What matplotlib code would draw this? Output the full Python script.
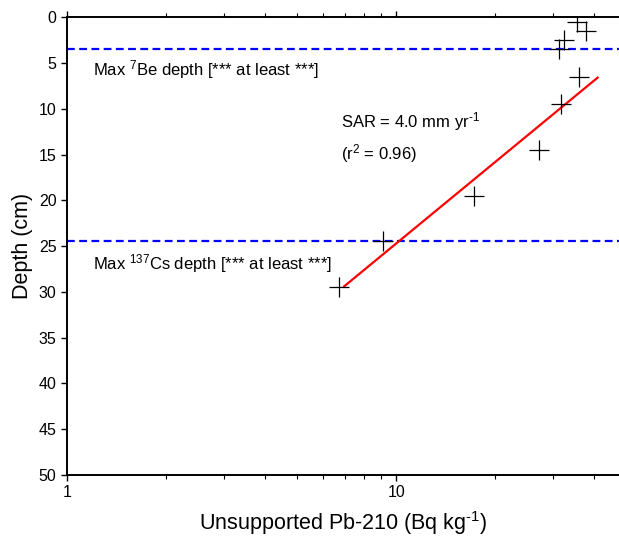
import numpy as np
import matplotlib
matplotlib.use("Agg")
import matplotlib.pyplot as plt
from matplotlib.ticker import LogLocator, FixedLocator, NullFormatter

plt.rcParams['font.family'] = ['Liberation Sans', 'DejaVu Sans']
plt.rcParams['mathtext.fontset'] = 'custom'
plt.rcParams['mathtext.rm'] = 'Liberation Sans'
plt.rcParams['mathtext.it'] = 'Liberation Sans:italic'

# unsupported Pb-210 activity per core slice
pb210 = [35.4, 37.6, 32.4, 31.3, 36.0, 31.7, 27.1, 17.2, 9.1, 6.7]
depth = [0.5, 1.5, 2.5, 3.5, 6.5, 9.5, 14.5, 19.5, 24.5, 29.5]

# log-linear regression line end points
fit_x = [6.95, 40.9]
fit_depth = [29.4, 6.6]

be7_depth = 3.5
cs137_depth = 24.5

fig = plt.figure(figsize=(6.19, 5.39), dpi=100)
ax = fig.add_axes([0.1082, 0.119, 0.8918, 0.849])

ax.axhline(be7_depth, color='#0000ff', lw=1.6, dashes=(3.5, 2), zorder=1)
ax.axhline(cs137_depth, color='#0000ff', lw=1.6, dashes=(3.5, 2), zorder=1)

ax.plot(fit_x, fit_depth, color='#ff0000', lw=1.6, zorder=2)
ax.plot(pb210, depth, linestyle='none', marker='+', ms=15, mew=0.9,
        color='black', zorder=3)

ax.text(1.2, 5.7, r'Max $^{7}$Be depth [*** at least ***]', fontsize=12,
        va='center', ha='left')
ax.text(1.2, 26.9, r'Max $^{137}$Cs depth [*** at least ***]', fontsize=12,
        va='center', ha='left')
ax.text(6.79, 11.35, r'SAR = 4.0 mm yr$^{\text{-}1}$', fontsize=12,
        va='center', ha='left')
ax.text(6.79, 14.85, r'(r$^{2}$ = 0.96)', fontsize=12,
        va='center', ha='left')

ax.set_xscale('log')
ax.set_xlim(1, 47.5)
ax.set_ylim(50, 0)
ax.set_yticks(np.arange(0, 51, 5))
ax.xaxis.set_major_locator(FixedLocator([1, 10]))
ax.xaxis.set_major_formatter(matplotlib.ticker.FuncFormatter(lambda v, p: f"{v:g}"))
ax.xaxis.set_minor_locator(LogLocator(base=10, subs=np.arange(2, 10)))
ax.xaxis.set_minor_formatter(NullFormatter())

ax.spines['right'].set_visible(False)
for s in ['left', 'bottom', 'top']:
    ax.spines[s].set_linewidth(1.4)

ax.tick_params(axis='x', which='both', top=True, direction='out', labelsize=11.5)
ax.tick_params(axis='x', which='major', length=4, width=1)
ax.tick_params(axis='x', which='minor', length=3, width=0.8)
ax.tick_params(axis='y', which='major', length=4, width=1, labelsize=11.5)

ax.set_xlabel(r'Unsupported Pb-210 (Bq kg$^{\text{-}1}$)', fontsize=15.5, labelpad=6)
ax.set_ylabel('Depth (cm)', fontsize=15.5, labelpad=4)

fig.savefig('out.png', dpi=100)
